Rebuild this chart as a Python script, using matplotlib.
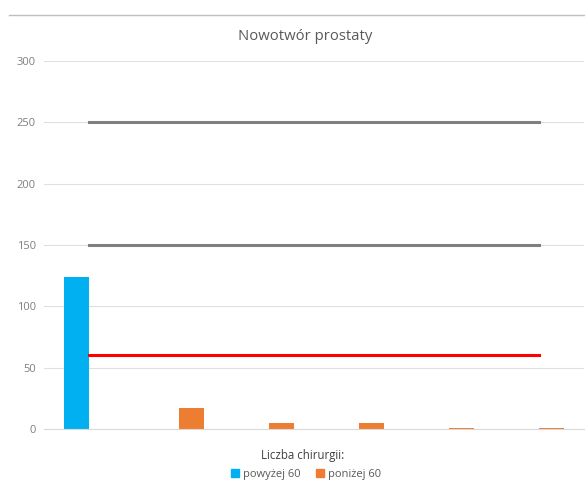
import numpy as np
import matplotlib.pyplot as plt
from matplotlib.lines import Line2D

plt.rcParams['font.family'] = ['Open Sans', 'DejaVu Sans']

# Dane
kategorie = ['1', '2', '3', '4', '5', '6']
powyzej_60 = [124, 0, 0, 0, 0, 0]
ponizej_60 = [0, 17, 5, 5, 1, 1]
linia_250 = [250, 250, 250, 250, 250, 250]
linia_150 = [150, 150, 150, 150, 150, 150]
linia_60 = [60, 60, 60, 60, 60, 60]

x = np.arange(len(kategorie))
szer = 0.278

fig = plt.figure(figsize=(5.85, 4.84), dpi=100)
ax = fig.add_axes([44 / 585, 1 - 429 / 484, 540 / 585, 368 / 484])

ax.bar(x - szer / 2, powyzej_60, szer, color='#00B0F0', label='powyżej 60', zorder=2)
ax.bar(x + szer / 2, ponizej_60, szer, color='#ED7D31', label='poniżej 60', zorder=2)

ax.plot(x, linia_250, color='#808080', lw=2.2, zorder=3)
ax.plot(x, linia_150, color='#808080', lw=2.2, zorder=3)
ax.plot(x, linia_60, color='#FF0000', lw=2.2, zorder=3)

ax.set_xlim(-0.5, 5.5)
ax.set_ylim(0, 300)
ax.set_yticks(range(0, 301, 50))
ax.set_xticks([])
ax.grid(axis='y', color='#E0E0E0', lw=0.8, zorder=0)
ax.tick_params(axis='y', length=0, labelsize=8, labelcolor='#7F7F7F', pad=6)
for s in ['top', 'right', 'left']:
    ax.spines[s].set_visible(False)
ax.spines['bottom'].set_color('#D9D9D9')
ax.spines['bottom'].set_linewidth(0.8)

fig.text(0.522, 1 - 37 / 484, 'Nowotwór prostaty', ha='center', va='center',
         fontsize=10.7, color='#595959')

# linia u góry
fig.add_artist(Line2D([9 / 585, 1], [1 - 15 / 484, 1 - 15 / 484], color='#BFBFBF', lw=1))

# legenda
fig.text(0.518, 1 - 455 / 484, 'Liczba chirurgii:', ha='center', va='center',
         fontsize=8.3, color='#404040')
h = [Line2D([], [], marker='s', ls='', color='#00B0F0', markersize=5.5),
     Line2D([], [], marker='s', ls='', color='#ED7D31', markersize=5.5)]
leg = fig.legend(h, ['powyżej 60', 'poniżej 60'], ncol=2,
                 loc='center', bbox_to_anchor=(0.52, 1 - 474 / 484), frameon=False,
                 fontsize=8, handletextpad=0.05, handlelength=1.4,
                 columnspacing=1.0)
for t in leg.get_texts():
    t.set_color('#595959')

fig.savefig('out.png', dpi=100)
